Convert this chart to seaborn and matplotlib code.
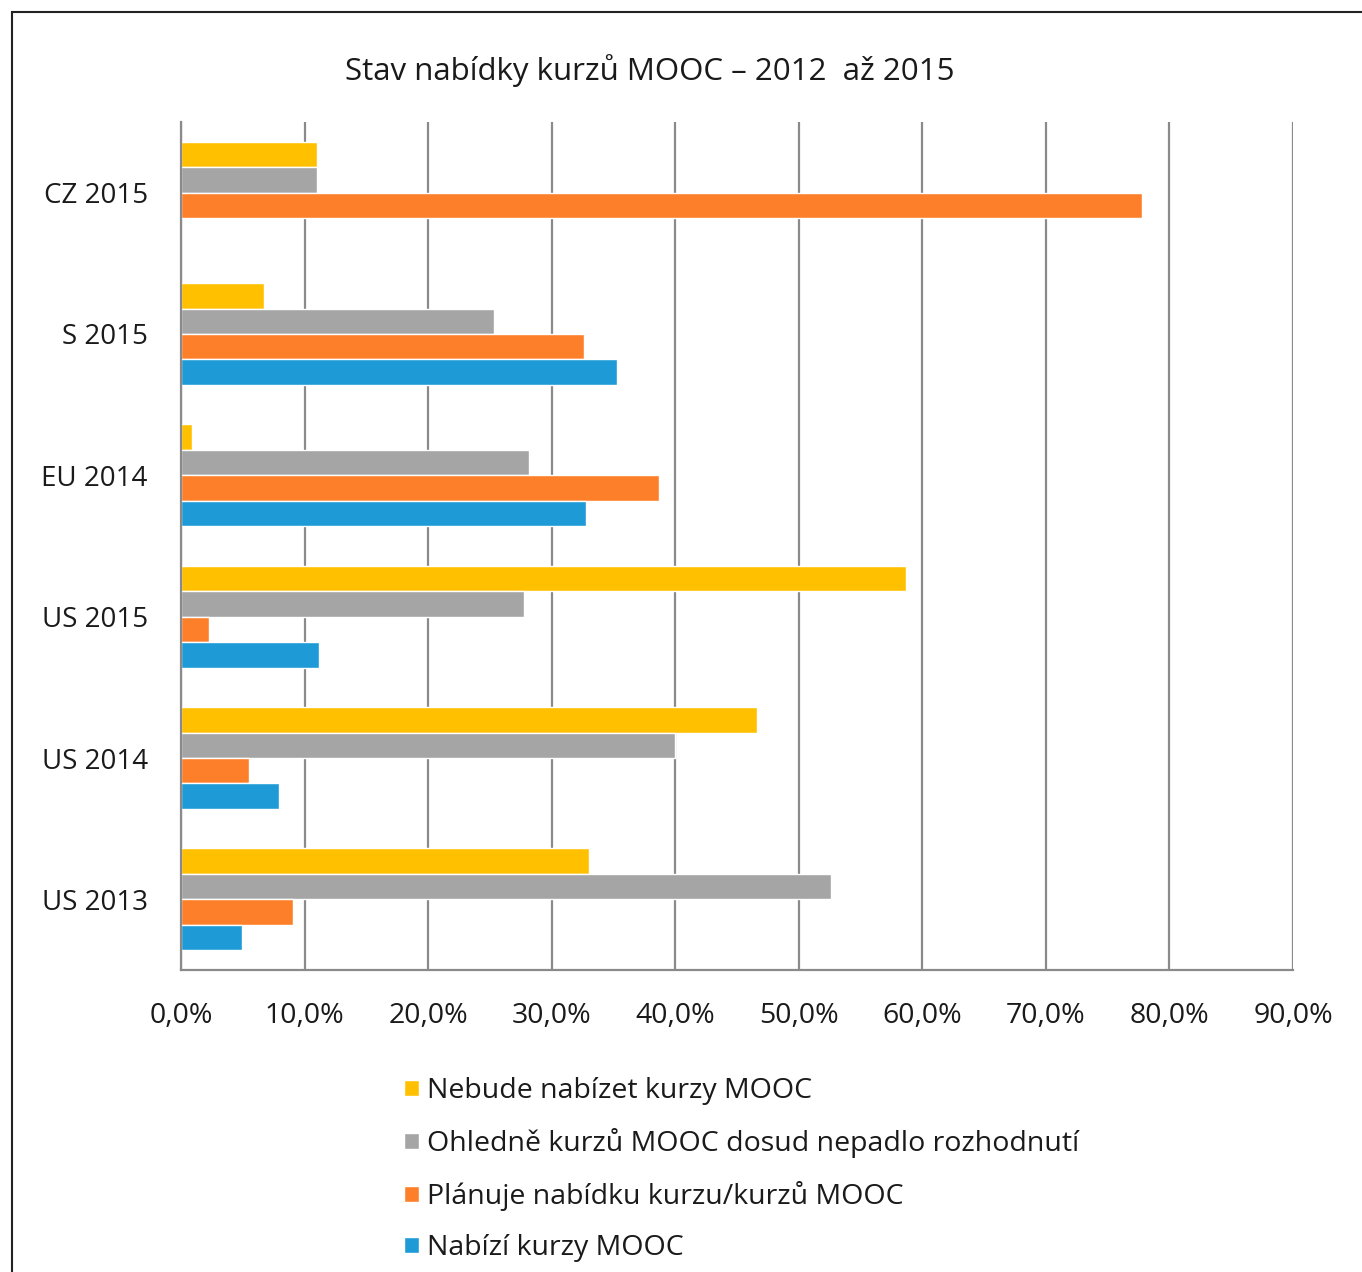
import numpy as np
import pandas as pd
import matplotlib
matplotlib.use("Agg")
import matplotlib.pyplot as plt
import seaborn as sns
from matplotlib.ticker import FuncFormatter, FixedLocator
from matplotlib.patches import Rectangle

# data (percent)
categories = ["CZ 2015", "S 2015", "EU 2014", "US 2015", "US 2014", "US 2013"]
series = ["Nebude nabízet kurzy MOOC",
          "Ohledně kurzů MOOC dosud nepadlo rozhodnutí",
          "Plánuje nabídku kurzu/kurzů MOOC",
          "Nabízí kurzy MOOC"]
nebude = [11.0, 6.7, 0.9, 58.7, 46.6, 33.0]
ohledne = [11.0, 25.3, 28.2, 27.8, 40.0, 52.6]
planuje = [77.8, 32.6, 38.7, 2.3, 5.5, 9.1]
nabizi = [0.0, 35.3, 32.8, 11.2, 7.9, 4.9]
colors = ["#FFC000", "#A5A5A5", "#FE7F2A", "#1E9BD7"]

df = pd.DataFrame({"kat": categories, series[0]: nebude, series[1]: ohledne,
                   series[2]: planuje, series[3]: nabizi})
df = df.melt(id_vars="kat", var_name="serie", value_name="hodnota")

sns.set_style("white")
plt.rcParams["font.family"] = ["Open Sans", "DejaVu Sans"]

fig = plt.figure(figsize=(13.62, 12.72), dpi=100)
ax = fig.add_axes([0.1329, 0.2374, 0.9493 - 0.1329, 0.9041 - 0.2374])

sns.barplot(data=df, y="kat", x="hodnota", hue="serie", order=categories,
            hue_order=series, palette=colors, width=0.72, saturation=1,
            orient="h", ax=ax, legend=True)

ax.set_xlim(0, 90)
ax.set_ylim(len(categories) - 0.5, -0.5)
ax.set_xticks(np.arange(0, 91, 10))
ax.xaxis.set_major_formatter(FuncFormatter(lambda v, p: f"{v:.1f}%".replace(".", ",")))
ax.set_xlabel("")
ax.set_ylabel("")
ax.grid(axis="x", color="#8a8a8a", linewidth=1.6)
ax.set_axisbelow(True)

for s in ["top", "right"]:
    ax.spines[s].set_visible(False)
for s in ["left", "bottom"]:
    ax.spines[s].set_color("#8a8a8a")
    ax.spines[s].set_linewidth(1.6)

ax.tick_params(axis="x", which="major", length=7, width=1.6, color="#8a8a8a",
               labelsize=20.5, pad=16, direction="out", labelcolor="#1a1a1a")
ax.tick_params(axis="y", which="major", length=0, labelsize=20, pad=24, labelcolor="#1a1a1a")
ax.yaxis.set_minor_locator(FixedLocator(np.arange(-0.5, len(categories), 1)))
ax.tick_params(axis="y", which="minor", length=9, width=1.6, color="#8a8a8a", direction="out")
ax.tick_params(axis="x", which="minor", length=0)

fig.text(0.477, 1 - 71 / 1272, "Stav nabídky kurzů MOOC – 2012  až 2015", ha="center", va="center",
         fontsize=22.5, color="#1a1a1a")

handles, labels = ax.get_legend_handles_labels()
ax.legend_.remove()
fig.legend(handles, labels, loc="upper left", bbox_to_anchor=(393 / 1362, 1 - 1066 / 1272),
           frameon=False, fontsize=20.5, handlelength=0.5, handleheight=0.5,
           handletextpad=0.3, labelspacing=0.8, borderaxespad=0,
           labelcolor="#1a1a1a")

fig.patches.append(Rectangle((12 / 1362, -0.05), 1.2, 1 - 12 / 1272 + 0.05,
                             transform=fig.transFigure, fill=False,
                             edgecolor="#222222", linewidth=1.5))

fig.savefig("out.png", dpi=100, facecolor="white")
